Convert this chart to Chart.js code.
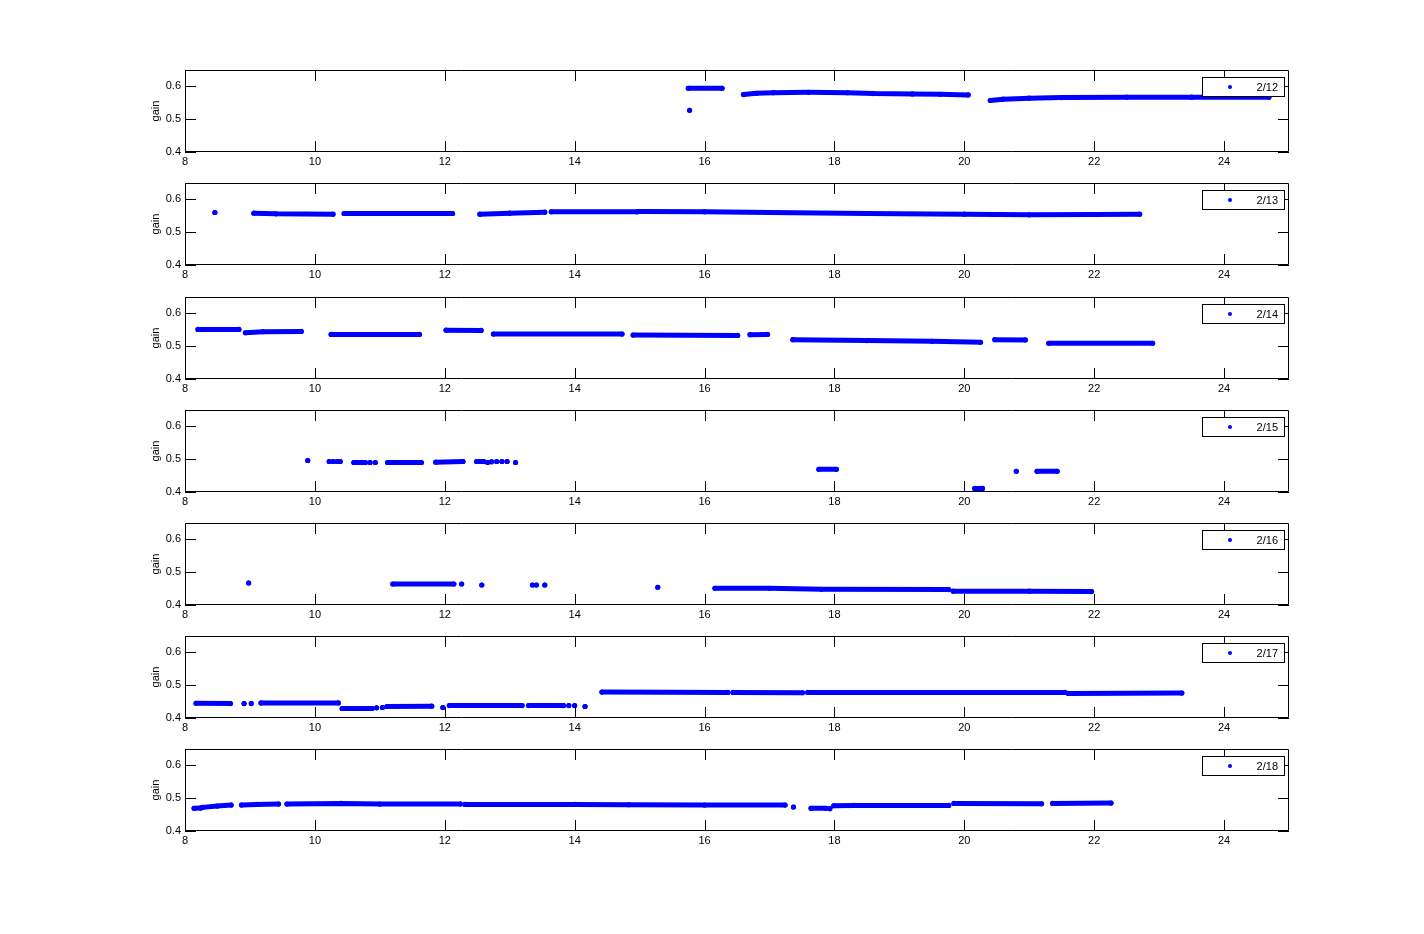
<!DOCTYPE html>
<html><head><meta charset="utf-8">
<script src="https://cdn.jsdelivr.net/npm/chart.js@4/dist/chart.umd.min.js"></script>
<style>
html,body{margin:0;padding:0;background:#fff;}
#wrap{position:relative;width:1424px;height:934px;overflow:hidden;}
#wrap canvas{position:absolute;left:0;}
</style></head><body><div id="wrap"></div>
<script>
// ---- data (hour of day, gain); each inner list is one continuous run of samples ----
const days = ['2/12','2/13','2/14','2/15','2/16','2/17','2/18'];
const xTicks = [8,10,12,14,16,18,20,22,24];
const yTicks = [0.4,0.5,0.6];
const xRange = [8,25];
const yRange = [0.4,0.65];
const yTitle = 'gain';

const runs12 = [
 [[15.77,0.527]],
 [[15.75,0.594],[16.27,0.594]],
 [[16.60,0.575],[16.80,0.579],[17.06,0.581],[17.60,0.582],[18.20,0.581],[18.60,0.578],[19.20,0.577],[19.63,0.576],[20.06,0.574]],
 [[20.40,0.557],[20.60,0.561],[21.00,0.564],[21.50,0.566],[22.50,0.567],[23.50,0.567],[24.69,0.567]]
];
const runs13 = [
 [[8.46,0.560]],
 [[9.06,0.558],[9.40,0.556],[10.28,0.555]],
 [[10.45,0.557],[11.00,0.557],[12.12,0.557]],
 [[12.54,0.555],[13.00,0.558],[13.54,0.561]],
 [[13.64,0.562],[14.96,0.562]],
 [[14.98,0.563],[16.00,0.562],[17.00,0.560],[18.50,0.557],[20.00,0.555],[21.00,0.553],[22.00,0.554],[22.70,0.555]]
];
const runs14 = [
 [[8.20,0.551],[8.83,0.551]],
 [[8.93,0.541],[9.20,0.544],[9.79,0.545]],
 [[10.25,0.536],[11.61,0.536]],
 [[12.02,0.549],[12.56,0.548]],
 [[12.75,0.537],[14.73,0.537]],
 [[14.90,0.534],[16.51,0.533]],
 [[16.70,0.535],[16.97,0.536]],
 [[17.36,0.520],[18.50,0.517],[19.50,0.515],[20.25,0.512]],
 [[20.47,0.520],[20.94,0.519]],
 [[21.30,0.509],[22.90,0.509]]
];
const runs15 = [
 [[9.89,0.496]],
 [[10.22,0.493]],[[10.28,0.493]],[[10.34,0.493]],[[10.39,0.493]],
 [[10.60,0.490],[10.78,0.490]],
 [[10.85,0.490]],[[10.93,0.490]],
 [[11.12,0.490],[11.64,0.490]],
 [[11.86,0.491],[12.28,0.493]],
 [[12.49,0.493],[12.60,0.493]],
 [[12.66,0.490]],[[12.72,0.492]],[[12.80,0.493]],[[12.88,0.493]],[[12.96,0.493]],
 [[13.09,0.490]],
 [[17.76,0.469],[18.03,0.469]],
 [[20.16,0.411],[20.28,0.411]],
 [[20.80,0.463]],
 [[21.12,0.463],[21.43,0.463]]
];
const runs16 = [
 [[8.98,0.467]],
 [[11.20,0.464],[12.14,0.464]],
 [[12.26,0.464]],
 [[12.57,0.461]],
 [[13.35,0.461]],[[13.41,0.461]],[[13.54,0.461]],
 [[15.28,0.454]],
 [[16.16,0.451],[17.00,0.451],[17.80,0.448],[19.76,0.447]],
 [[19.83,0.442],[21.00,0.442],[21.96,0.441]]
];
const runs17 = [
 [[8.17,0.445],[8.70,0.444]],
 [[8.91,0.444]],[[9.02,0.444]],
 [[9.17,0.446],[10.36,0.446]],
 [[10.42,0.429],[10.88,0.429]],
 [[10.95,0.431]],[[11.04,0.432]],
 [[11.11,0.435],[11.80,0.436]],
 [[11.97,0.432]],
 [[12.07,0.438],[13.19,0.438]],
 [[13.29,0.438],[13.83,0.438]],
 [[13.91,0.438]],[[14.00,0.438]],
 [[14.16,0.435]],
 [[14.42,0.479],[16.36,0.478]],
 [[16.44,0.478],[17.51,0.477]],
 [[17.59,0.478],[21.55,0.478]],
 [[21.60,0.475],[23.35,0.476]]
];
const runs18 = [
 [[8.14,0.469],[8.24,0.470]],
 [[8.27,0.472],[8.50,0.476],[8.71,0.479]],
 [[8.87,0.479],[9.10,0.481],[9.44,0.482]],
 [[9.57,0.482],[10.40,0.484],[11.00,0.482],[12.24,0.482]],
 [[12.31,0.481],[14.00,0.481],[14.83,0.480],[16.00,0.479],[17.24,0.479]],
 [[17.37,0.473]],
 [[17.64,0.469],[17.87,0.469]],
 [[17.93,0.468]],
 [[17.99,0.477],[18.30,0.478],[19.76,0.478]],
 [[19.84,0.484],[21.19,0.483]],
 [[21.36,0.484],[22.26,0.485]]
];
const allRuns = [runs12,runs13,runs14,runs15,runs16,runs17,runs18];

// ---- layout ----
const BLUE = '#0000ff';
const FONT = '"Liberation Sans", Arial, Helvetica, sans-serif';
const axisTops = [70,183,297,410,523,636,749];
const CANVAS_H = 130, PAD_TOP = 12, AXIS_H = 82;

function toPoints(runs){
  const out = [];
  runs.forEach((run,i)=>{
    if(i>0) out.push({x:run[0][0], y:null});
    run.forEach(p=>out.push({x:p[0], y:p[1]}));
  });
  return out;
}

const framePlugin = {
  id:'frame',
  afterDraw(chart){
    const {ctx, chartArea:a, scales} = chart;
    const xs = scales.x, ys = scales.y;
    ctx.save();
    ctx.strokeStyle = '#000'; ctx.lineWidth = 1;
    ctx.beginPath();
    ctx.rect(a.left+0.5, a.top+0.5, a.right-a.left-1, a.bottom-a.top-1);
    const TL = 11;
    xTicks.forEach(v=>{
      const px = Math.round(xs.getPixelForValue(v))+0.5;
      ctx.moveTo(px, a.bottom); ctx.lineTo(px, a.bottom-TL);
      ctx.moveTo(px, a.top); ctx.lineTo(px, a.top+TL);
    });
    yTicks.forEach(v=>{
      const py = Math.round(ys.getPixelForValue(v))+0.5;
      ctx.moveTo(a.left, py); ctx.lineTo(a.left+TL, py);
      ctx.moveTo(a.right, py); ctx.lineTo(a.right-TL, py);
    });
    ctx.stroke();
    // legend box
    const ds = chart.data.datasets[0];
    const bw = 82, bh = 19;
    const bx = a.right - 5 - bw, by = a.top + 7;
    ctx.fillStyle = '#fff';
    ctx.fillRect(bx, by, bw, bh);
    ctx.strokeRect(bx+0.5, by+0.5, bw, bh);
    ctx.fillStyle = BLUE;
    ctx.beginPath(); ctx.arc(bx+28, by+bh/2+0.5, 2, 0, Math.PI*2); ctx.fill();
    ctx.fillStyle = '#000';
    ctx.font = '11px ' + FONT;
    ctx.textAlign = 'right'; ctx.textBaseline = 'middle';
    ctx.fillText(ds.label, bx+bw-6, by+bh/2+1);
    ctx.restore();
  }
};

const wrap = document.getElementById('wrap');
days.forEach((day,i)=>{
  const c = document.createElement('canvas');
  c.width = 1424; c.height = CANVAS_H;
  c.style.width = '1424px'; c.style.height = CANVAS_H+'px';
  c.style.top = (axisTops[i]-PAD_TOP)+'px';
  wrap.appendChild(c);
  new Chart(c, {
    type:'scatter',
    data:{datasets:[{
      label:day,
      data:toPoints(allRuns[i]),
      showLine:true, spanGaps:false,
      borderColor:BLUE, borderWidth:5, borderCapStyle:'round', borderJoinStyle:'round',
      pointRadius:2.6, pointBackgroundColor:BLUE, pointBorderWidth:0,
      pointStyle:'circle'
    }]},
    options:{
      responsive:false, animation:false, devicePixelRatio:1, events:[],
      layout:{padding:{top:PAD_TOP, left:149, right:135, bottom:0}},
      plugins:{legend:{display:false}, tooltip:{enabled:false}},
      scales:{
        x:{type:'linear', min:xRange[0], max:xRange[1],
           grid:{display:false, drawTicks:false}, border:{display:false},
           afterBuildTicks:s=>{s.ticks = xTicks.map(v=>({value:v}));},
           afterFit:s=>{s.height = CANVAS_H-PAD_TOP-AXIS_H;},
           ticks:{padding:3, color:'#000', maxRotation:0, autoSkip:false,
                  font:{family:FONT, size:11}, callback:v=>String(v)}},
        y:{type:'linear', min:yRange[0], max:yRange[1],
           grid:{display:false, drawTicks:false}, border:{display:false},
           afterBuildTicks:s=>{s.ticks = yTicks.map(v=>({value:v}));},
           afterFit:s=>{s.width = 36;},
           title:{display:true, text:yTitle, color:'#000', padding:{top:0,bottom:0},
                  font:{family:FONT, size:11}},
           ticks:{padding:4, color:'#000', font:{family:FONT, size:11},
                  callback:v=>Number(v).toFixed(1)}}
      }
    },
    plugins:[framePlugin]
  });
});
</script></body></html>
